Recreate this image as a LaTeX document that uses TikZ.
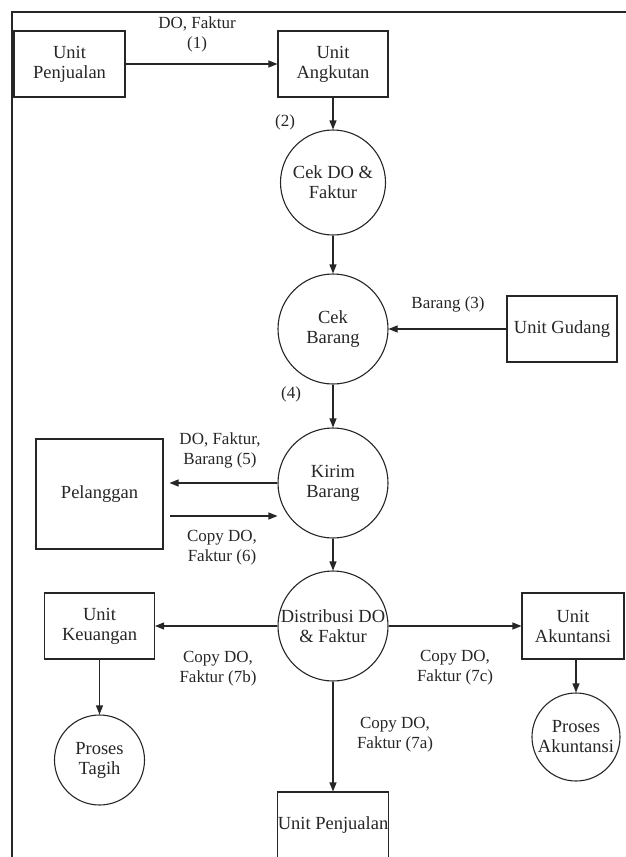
\documentclass[tikz,border=0pt]{standalone}
\usepackage{fontspec}
\setmainfont{Liberation Serif}
\usetikzlibrary{arrows.meta}
\begin{document}
\begin{tikzpicture}[x=1pt,y=-1pt,line width=1.1pt,black!85,>={Triangle[length=9pt,width=7pt]},
	unit/.style={draw,minimum width=110pt,minimum height=66pt,inner sep=0pt,align=center,font=\fontsize{18.5}{20}\selectfont},
	proc/.style={draw,circle,minimum size=110pt,inner sep=0pt,align=center,font=\fontsize{18.5}{20}\selectfont},
	lbl/.style={align=center,font=\fontsize{17}{20}\selectfont}]
		\useasboundingbox (0,0) rectangle (625,857);
		\draw (12,870)--(12,12)--(640,12);
	%	units
		\node[unit,minimum width=111pt] (pjl) at (69.5,64) {Unit\\Penjualan};
		\node[unit] (ang) at (333,64) {Unit\\Angkutan};
		\node[unit] (gdg) at (562,329) {Unit Gudang};
		\node[unit,minimum width=127pt,minimum height=110pt] (plg) at (99.5,494) {Pelanggan};
		\node[unit] (keu) at (99.5,626) {Unit\\Keuangan};
		\node[unit,minimum width=102pt] (akun) at (573,626) {Unit\\Akuntansi};
		\node[unit,minimum width=111pt] (pjl2) at (333,825) {Unit Penjualan};
	%	processes
		\node[proc,minimum size=105pt] (cekdo) at (333,182.5) {Cek DO \&\\Faktur};
		\node[proc] (cekbrg) at (333,329) {Cek\\Barang};
		\node[proc] (kirim) at (333,483) {Kirim\\Barang};
		\node[proc] (dist) at (333,626) {Distribusi DO\\\& Faktur};
		\node[proc,minimum size=90pt] (tagih) at (99.5,760) {Proses\\Tagih};
		\node[proc,minimum size=88pt] (pakun) at (576,737) {Proses\\Akuntansi};
	%	flows
		\draw[->] (pjl)--(ang);
		\draw[->] (ang)--(cekdo);
		\draw[->] (cekdo)--(cekbrg);
		\draw[->] (gdg)--(cekbrg);
		\draw[->] (cekbrg)--(kirim);
		\draw[->,shorten >=6pt] (kirim.west)--(plg.east|-kirim.west);
		\draw[->,shorten <=6pt] (plg.east|-0,516)--(kirim.west|-0,516);
		\draw[->] (kirim)--(dist);
		\draw[->] (dist)--(keu);
		\draw[->] (dist)--(akun);
		\draw[->] (dist)--(pjl2);
		\draw[->] (keu)--(tagih);
		\draw[->] (akun.south-|pakun)--(pakun);
	%	labels
		\node[lbl] (l1) at (197,34) {DO, Faktur\\(1)};
		\node[lbl] (l2) at (285,122) {(2)};
		\node[lbl] (l3) at (448,304) {Barang (3)};
		\node[lbl] (l4) at (291,394) {(4)};
		\node[lbl] (l5) at (220,450) {DO, Faktur,\\Barang (5)};
		\node[lbl] (l6) at (222,548) {Copy DO,\\Faktur (6)};
		\node[lbl] (l7b) at (218,669) {Copy DO,\\Faktur (7b)};
		\node[lbl] (l7c) at (455,668) {Copy DO,\\Faktur (7c)};
		\node[lbl] (l7a) at (395,735) {Copy DO,\\Faktur (7a)};
\end{tikzpicture}
\end{document}
